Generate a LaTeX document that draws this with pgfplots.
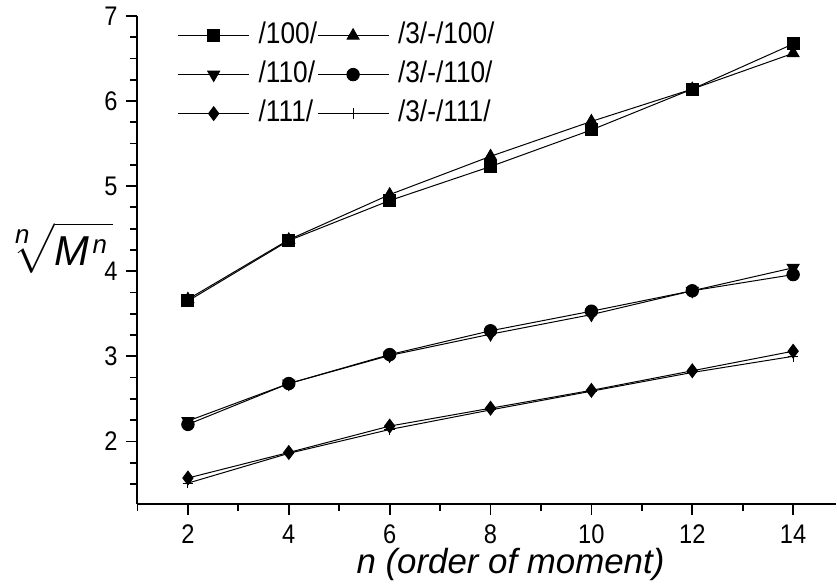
\documentclass[border=0pt]{standalone}
\usepackage{amsmath}
\usepackage{fontspec}
\setmainfont{Liberation Sans}
\newfontfamily\narrow[FakeStretch=0.88]{Liberation Sans}
\usepackage{pgfplots}
\pgfplotsset{compat=1.18}

\pgfplotstableread{
n   s100 t100 d110 c110 d111 p111
2   3.65 3.67 2.24 2.20 1.57 1.51
4   4.36 4.37 2.68 2.68 1.87 1.86
6   4.83 4.90 3.01 3.02 2.18 2.14
8   5.23 5.35 3.26 3.30 2.39 2.37
10  5.66 5.76 3.49 3.53 2.60 2.59
12  6.14 6.14 3.77 3.77 2.83 2.81
14  6.67 6.56 4.04 3.96 3.06 3.00
}\moments

\newcommand{\idx}{\mbox{\fontsize{13}{13}\selectfont\itshape n}}

\begin{document}
\begin{tikzpicture}
\begin{axis}[
    scale only axis,
    width=349.5bp, height=244bp,
    xmin=1, xmax=14.85,
    ymin=1.27, ymax=7,
    axis x line=bottom, axis y line=left,
    axis line style={-, line width=1bp},
    tick align=outside,
    xtick={2,4,...,14},
    minor xtick={1,3,5,7,9,11,13},
    ytick={2,3,4,5,6,7},
    minor ytick={1.5,1.75,2.25,2.5,2.75,3.25,3.5,3.75,4.25,4.5,4.75,5.25,5.5,5.75,6.25,6.5,6.75},
    major tick length=5.5bp, minor tick length=3.5bp,
    tick style={line width=0.9bp, black},
    ticklabel style={font=\narrow\fontsize{13.5}{15}\selectfont},
    xticklabel style={yshift=-1.5bp},
    yticklabel style={xshift=-1bp},
    /pgf/number format/assume math mode=true,
    every axis x label/.style={at={(rel axis cs:0.534,0)}, anchor=north, yshift=-19bp},
    every axis y label/.style={at={(rel axis cs:0,0.525)}, anchor=east, xshift=-8.7bp},
    xlabel={\fontsize{17.5}{20}\selectfont\itshape n (order of moment)},
    ylabel={\hspace*{2bp}\fontsize{21}{24}\selectfont$\sqrt[\leftroot{3}\idx]{\rule[-2bp]{0pt}{19bp}\textit{M}\kern1.5bp^{\idx}\kern2.5bp}$},
    legend columns=2,
    legend cell align=left,
    legend style={draw=none, fill=none, inner sep=0pt,
        at={(rel axis cs:0.057,0.99)}, anchor=north west,
        font=\narrow\fontsize{15}{17}\selectfont,
        nodes={inner xsep=0bp, inner ysep=0bp, text height=11bp, text depth=3.5bp, anchor=west},
        /tikz/column sep=0bp, /tikz/row sep=5bp},
    legend image code/.code={
        \draw[mark repeat=2, mark phase=2] plot coordinates {(0bp,0bp) (17.75bp,0bp) (35.5bp,0bp)};
        \path (40bp,0bp);
    },
    every axis plot/.append style={black, line width=0.5bp, mark options={solid, fill=black}},
]
\addplot[mark=square*, mark size=3bp] table[x=n, y=s100] {\moments};
\addlegendentry{/100/}
\addplot[mark=triangle*, mark size=3.4bp] table[x=n, y=t100] {\moments};
\addlegendentry{/3/-/100/}
\addplot[mark=triangle*, mark size=3.4bp, mark options={rotate=180}] table[x=n, y=d110] {\moments};
\addlegendentry{/110/}
\addplot[mark=*, mark size=3.1bp] table[x=n, y=c110] {\moments};
\addlegendentry{/3/-/110/}
\addplot[mark=diamond*, mark size=3.4bp] table[x=n, y=d111] {\moments};
\addlegendentry{/111/}
\addplot[mark=+, mark size=2.6bp] table[x=n, y=p111] {\moments};
\addlegendentry{/3/-/111/}
\end{axis}
\end{tikzpicture}
\end{document}
